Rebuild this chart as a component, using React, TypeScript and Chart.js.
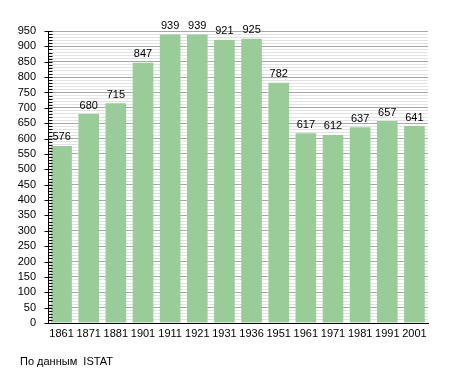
import React, { useEffect, useRef } from "react";
import { Chart, registerables } from "chart.js";

Chart.register(...registerables);

const years = ["1861", "1871", "1881", "1901", "1911", "1921", "1931", "1936", "1951", "1961", "1971", "1981", "1991", "2001"];
const population = [576, 680, 715, 847, 939, 939, 921, 925, 782, 617, 612, 637, 657, 641];
const sourceNote = "По данным  ISTAT";
const yMax = 950;
const yMinorStep = 10;
const yMajorStep = 50;

const FONT = "'Liberation Sans', Arial, sans-serif";

export default function App() {
  const ref = useRef<HTMLCanvasElement | null>(null);

  useEffect(() => {
    const canvas = ref.current;
    if (!canvas) return;

    const overlay = {
      id: "overlay",
      afterDatasetsDraw(chart: any) {
        const ctx = chart.ctx;
        const meta = chart.getDatasetMeta(0);
        ctx.save();
        ctx.fillStyle = "#000";
        ctx.font = `11px ${FONT}`;
        ctx.textAlign = "center";
        ctx.textBaseline = "bottom";
        meta.data.forEach((el: any, i: number) => {
          ctx.fillText(String(population[i]), el.x, el.y - 3);
        });
        ctx.restore();
      },
      afterDraw(chart: any) {
        const ctx = chart.ctx;
        const y = chart.scales.y;
        const left = Math.round(chart.chartArea.left) + 0.5;
        ctx.save();
        ctx.strokeStyle = "#000";
        ctx.lineWidth = 1;
        for (let v = 0; v <= yMax; v += yMinorStep) {
          const py = Math.round(y.getPixelForValue(v)) + 0.5;
          const major = v % yMajorStep === 0;
          ctx.beginPath();
          ctx.moveTo(major ? left - 4 : left, py);
          ctx.lineTo(left + 4, py);
          ctx.stroke();
        }
        ctx.fillStyle = "#000";
        ctx.font = `11px ${FONT}`;
        ctx.textAlign = "left";
        ctx.textBaseline = "middle";
        ctx.fillText(sourceNote, 20, 362);
        ctx.restore();
      },
    };

    const chart = new Chart(canvas, {
      type: "bar",
      data: {
        labels: years,
        datasets: [
          {
            data: population,
            backgroundColor: "rgb(153,204,153)",
            borderWidth: 0,
            barPercentage: 0.76,
            categoryPercentage: 1,
          },
        ],
      },
      options: {
        animation: false,
        responsive: false,
        devicePixelRatio: 1,
        layout: { padding: { top: 31, right: 27, bottom: 0, left: 0 } },
        plugins: {
          legend: { display: false },
          tooltip: { enabled: false },
        },
        scales: {
          x: {
            grid: { display: false, drawTicks: false },
            border: { display: true, color: "#000", width: 1 },
            ticks: {
              color: "#000",
              font: { family: FONT, size: 11 },
              padding: 4,
              maxRotation: 0,
              autoSkip: false,
            },
            afterFit(scale: any) {
              scale.height = 50;
            },
          },
          y: {
            min: 0,
            max: yMax,
            grid: {
              drawTicks: false,
              color: (c: any) => (c.tick && c.tick.value % yMajorStep === 0 ? "#a8a8a8" : "#e2e2e2"),
            },
            border: { display: true, color: "#000", width: 1 },
            ticks: {
              stepSize: yMinorStep,
              autoSkip: false,
              maxTicksLimit: 1000,
              color: "#000",
              font: { family: FONT, size: 11 },
              padding: 12,
              callback: (v: any) => (Number(v) % yMajorStep === 0 ? String(v) : ""),
            },
            afterFit(scale: any) {
              scale.width = 48;
            },
          },
        },
      },
      plugins: [overlay],
    });

    return () => chart.destroy();
  }, []);

  return (
    <div style={{ position: "absolute", left: 0, top: 0, width: 455, height: 373, background: "#fff" }}>
      <canvas ref={ref} width={455} height={373} style={{ width: 455, height: 373, display: "block" }} />
    </div>
  );
}
